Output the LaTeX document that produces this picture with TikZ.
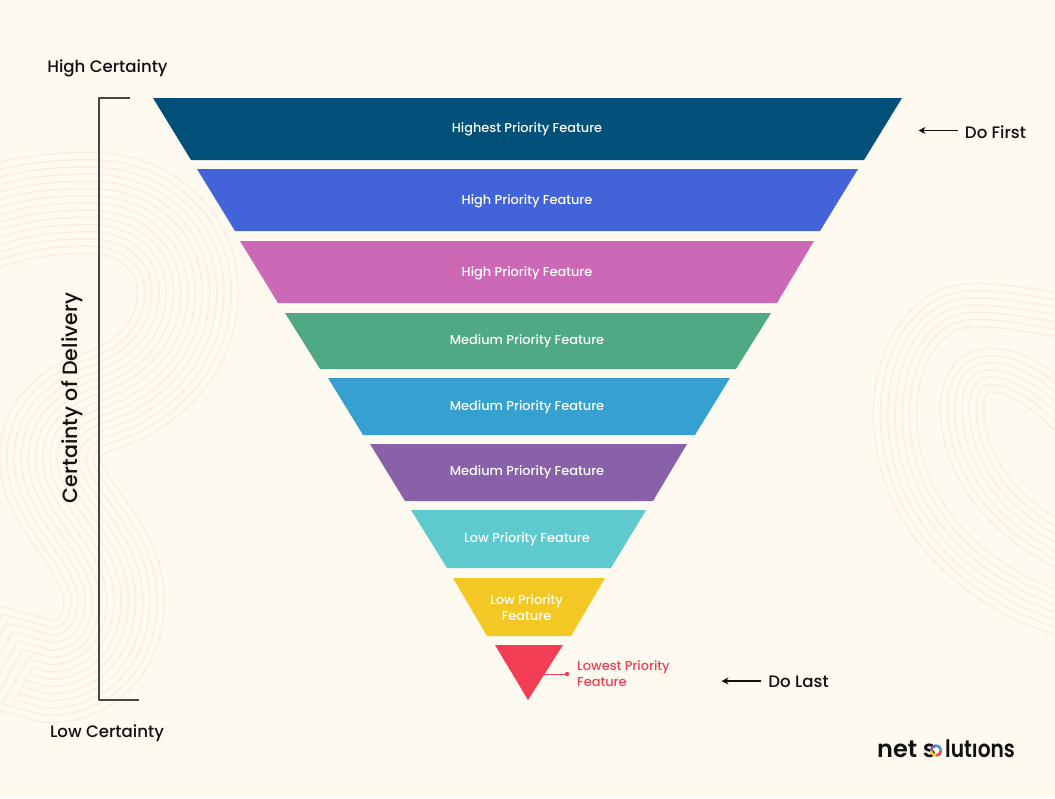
\documentclass[tikz,border=0pt]{standalone}
\usepackage{fontspec}
\setmainfont{Poppins}
\newfontfamily\medf{Poppins Medium}
\newfontfamily\semif{Poppins SemiBold}
\usetikzlibrary{arrows.meta}
\definecolor{bgc}{HTML}{FFFAF0}
\definecolor{ringc}{HTML}{FAEEE3}
\definecolor{c1}{HTML}{01507A}
\definecolor{c2}{HTML}{4363D8}
\definecolor{c3}{HTML}{CC69B6}
\definecolor{c4}{HTML}{4FA985}
\definecolor{c5}{HTML}{36A1D1}
\definecolor{c6}{HTML}{8961A8}
\definecolor{c7}{HTML}{5FCACD}
\definecolor{c8}{HTML}{F3C824}
\definecolor{c9}{HTML}{F23D55}
\definecolor{inkc}{HTML}{111111}
\definecolor{brk}{HTML}{4A4541}
\newcommand{\ringpath}[3]{%
  \foreach \k in {#2,...,0}{%
    \pgfmathsetmacro{\wa}{2*\k*#3+1.6}
    \pgfmathsetmacro{\wb}{max(2*\k*#3-1.6,0.01)}
    \draw[ringc,line width=\wa pt] #1;
    \draw[bgc,line width=\wb pt] #1;
  }%
}
\tikzset{
  x=1pt,y=-1pt,
  lab/.style={text=white,font=\medf\fontsize{12.9}{16}\selectfont,align=center,inner sep=0pt},
  side/.style={text=inkc,font=\medf\fontsize{16.6}{18}\selectfont,inner sep=0pt},
  brace/.style={brk,line width=1.7pt},
  tipline/.style={inkc,line width=1.2pt,-{Stealth[length=7pt,width=7pt]}},
  logotext/.style={inner sep=0pt,anchor=base west,font=\semif\fontsize{24}{26}\selectfont,text=inkc}
}
\begin{document}
\begin{tikzpicture}[line join=round]
\useasboundingbox (0,0) rectangle (1055,798);
\fill[bgc] (0,0) rectangle (1055,798);
\begin{scope}
\clip (0,0) rectangle (1055,798);
% left swirl
\ringpath{(-30,225) .. controls (20,205) and (55,203) .. (90,203) .. controls (150,203) and (188,245) .. (188,292) .. controls (188,345) and (150,385) .. (100,401) .. controls (70,411) and (50,430) .. (50,458) .. controls (50,505) and (114,545) .. (114,600) .. controls (114,645) and (85,672) .. (50,672) -- (-20,653)}{7}{7.2}
\begin{scope}
\clip (-5,596) -- (33,668) -- (13,703) -- (-5,703) -- cycle;
\fill[bgc] (-5,590) rectangle (40,710);
\foreach \k in {0,...,8}{
  \draw[ringc,line width=1.6pt] (33-5.1*\k,668-9*\k) -- ++(-35,61);
}
\end{scope}
% right swirl
\ringpath{(1075,318) .. controls (1030,310) and (1000,305) .. (975,305) .. controls (925,305) and (895,355) .. (895,415) .. controls (895,510) and (970,590) .. (1075,618)}{3}{7.2}
\ringpath{(1075,420) .. controls (1040,385) and (1015,370) .. (990,370) .. controls (972,370) and (962,385) .. (962,408) .. controls (962,470) and (1010,525) .. (1075,552)}{3}{7.2}
\end{scope}
% funnel
\fill[c1] (153,98) -- (902,98) -- (864,160) -- (191,160) -- cycle;
\fill[c2] (197,169) -- (858,169) -- (820,231) -- (235,231) -- cycle;
\fill[c3] (240,241) -- (814,241) -- (777,303) -- (278,303) -- cycle;
\fill[c4] (285,313) -- (771,313) -- (736,369) -- (320,369) -- cycle;
\fill[c5] (328,378) -- (730,378) -- (695,435) -- (363,435) -- cycle;
\fill[c6] (370,444) -- (687,444) -- (653,501) -- (405,501) -- cycle;
\fill[c7] (411,510) -- (646,510) -- (611,568) -- (447,568) -- cycle;
\fill[c8] (453,578) -- (605,578) -- (571,636) -- (487,636) -- cycle;
\fill[c9] (495,645) -- (563,645) -- (528,700) -- cycle;
\node[lab] (l1) at (527,129.5) {Highest Priority Feature};
\node[lab] (l2) at (527,201) {High Priority Feature};
\node[lab] (l3) at (527,273) {High Priority Feature};
\node[lab] (l4) at (527,341.5) {Medium Priority Feature};
\node[lab] (l5) at (527,407.5) {Medium Priority Feature};
\node[lab] (l6) at (527,472.5) {Medium Priority Feature};
\node[lab] (l7) at (527,539.5) {Low Priority Feature};
\node[lab] (l8) at (526.5,608) {Low Priority\\Feature};
\node[lab,text=c9,align=left,anchor=west] (l9) at (577,674) {Lowest Priority\\Feature};
% leader
\coordinate (tri) at (544,674);
\coordinate (dot) at (567,674);
\draw[c9,line width=0.7pt] (tri) -- (dot);
\fill[c9] (dot) circle (2.2);
% bracket
\coordinate (bt) at (130,98);
\coordinate (bb) at (139,700);
\draw[brace] (bt) -- (99,98) -- (99,700) -- (bb);
\node[side] (hc) at (107.5,68) {High Certainty};
\node[side] (lc) at (107,733) {Low Certainty};
\node[text=inkc,font=\medf\fontsize{20.6}{24}\selectfont,inner sep=0pt,rotate=90] (cd) at (72,398) {Certainty of Delivery};
% arrows
\node[side] (df) at (995.5,132) {Do First};
\node[side] (dl) at (798.5,682) {Do Last};
\coordinate (af) at (918.5,130.5);
\coordinate (al) at (721.5,681);
\draw[tipline] (df.west |- af) ++(-7,0) -- (af);
\draw[tipline] (dl.west |- al) ++(-7,0) -- (al);
% logo
\node[logotext] (lg1) at (877,757) {net s};
\node[logotext,xscale=0.84] (lg2) at (945,757) {lutıons};
\coordinate (ring) at (936,750.5);
\draw[line width=2.6pt,c9] (ring) ++(0:5) arc (0:90:5);
\draw[line width=2.6pt,c8] (ring) ++(90:5) arc (90:180:5);
\draw[line width=2.6pt,c6] (ring) ++(180:5) arc (180:270:5);
\draw[line width=2.6pt,c5] (ring) ++(270:5) arc (270:360:5);
\end{tikzpicture}
\end{document}
